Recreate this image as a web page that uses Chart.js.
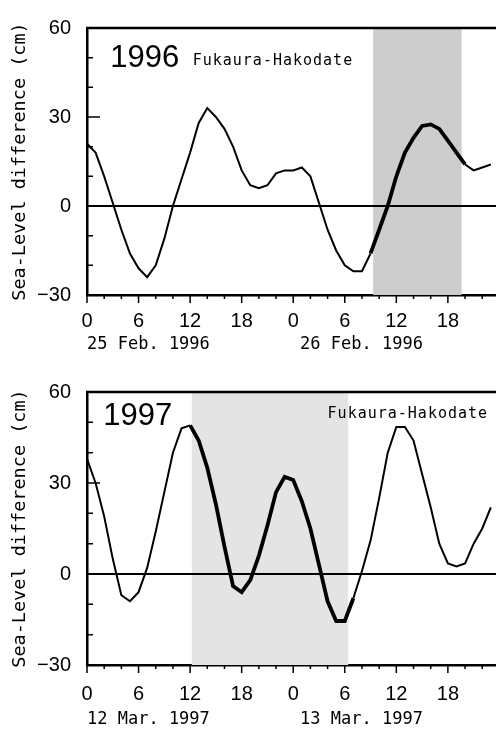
<!DOCTYPE html>
<html>
<head>
<meta charset="utf-8">
<script src="https://cdn.jsdelivr.net/npm/chart.js@4.4.1/dist/chart.umd.min.js"></script>
<style>
    body { margin: 0; background: #fff; }
    #wrap { position: relative; width: 496px; height: 729px; overflow: hidden; }
    canvas { position: absolute; left: 0; }
    #c1996 { top: 0; }
    #c1997 { top: 364px; }
</style>
</head>
<body>
<div id="wrap">
    <canvas id="c1996" width="496" height="364"></canvas>
    <canvas id="c1997" width="496" height="365"></canvas>
</div>
<script>
// hours from 0h of the first day
const hours = [0, 1, 2, 3, 4, 5, 6, 7, 8, 9, 10, 11, 12, 13, 14, 15, 16, 17, 18, 19, 20, 21, 22, 23,
    24, 25, 26, 27, 28, 29, 30, 31, 32, 33, 34, 35, 36, 37, 38, 39, 40, 41, 42, 43, 44, 45, 46, 47];

// sea-level difference Fukaura - Hakodate (cm)
const sea1996 = [21, 18, 10, 1, -8, -16, -21, -24, -20, -11, 0, 9, 18, 28, 33, 30, 26, 20, 12, 7, 6, 7, 11, 12,
    12, 13, 10, 1, -8, -15, -20, -22, -22, -16, -8, 0, 10, 18, 23, 27, 27.5, 26, 22, 18, 14, 12, 13, 14];
const sea1997 = [38, 30, 19, 5, -7, -9, -6, 2, 14, 27, 40, 48, 49, 44, 35, 23, 9, -4, -6, -2, 6, 16, 27, 32,
    31, 24, 15, 3, -9, -15.5, -15.5, -8, 1, 11, 25, 40, 48.5, 48.5, 44, 33, 22, 10, 3.5, 2.5, 3.5, 10, 15, 22];

// shaded period and bold part of the curve (hours)
const shade1996 = [33.3, 43.6];
const shade1997 = [12.2, 30.4];
const bold1996 = [33, 44];
const bold1997 = [12, 31];

const hourTicks = [0, 6, 12, 18, 24, 30, 36, 42];
const hourLabels = ["0", "6", "12", "18", "0", "6", "12", "18"];
const yTicks = [-30, 0, 30, 60];
const yLabels = ["\u221230", "0", "30", "60"];

const dates1996 = ["25 Feb. 1996", "26 Feb. 1996"];
const dates1997 = ["12 Mar. 1997", "13 Mar. 1997"];
const site = "Fukaura-Hakodate";

Chart.defaults.font.family = "'Liberation Sans', Arial, sans-serif";
Chart.defaults.color = "#000";

const mono = "'DejaVu Sans Mono', monospace";

const decor = {
    id: "decor",
    beforeDatasetsDraw(chart, args, o) {
        const { ctx, chartArea: a, scales: { x, y } } = chart;
        ctx.save();
        let x0 = x.getPixelForValue(o.shade[0]);
        let x1 = x.getPixelForValue(o.shade[1]);
        ctx.fillStyle = o.shadeColor;
        ctx.fillRect(x0, a.top, x1 - x0, a.bottom - a.top);

        // zero line
        ctx.strokeStyle = "#000";
        ctx.lineWidth = 2;
        ctx.beginPath();
        ctx.moveTo(a.left, y.getPixelForValue(0));
        ctx.lineTo(a.right, y.getPixelForValue(0));
        ctx.stroke();
        ctx.restore();
    },
    afterDraw(chart, args, o) {
        const { ctx, chartArea: a, scales: { x, y } } = chart;
        ctx.save();
        ctx.strokeStyle = "#000";

        // top frame
        ctx.lineWidth = 2.5;
        ctx.beginPath();
        ctx.moveTo(a.left - 1, a.top);
        ctx.lineTo(a.right, a.top);
        ctx.stroke();

        // tick marks
        ctx.lineWidth = 1.5;
        ctx.beginPath();
        for (let h = 0; h <= x.max; h += 2) {
            let px = x.getPixelForValue(h);
            ctx.moveTo(px, a.bottom);
            ctx.lineTo(px, a.bottom + (h % 6 === 0 ? 8 : 4));
        }
        for (let v = -30; v <= 60; v += 10) {
            let py = y.getPixelForValue(v);
            ctx.moveTo(a.left, py);
            ctx.lineTo(a.left + (v % 30 === 0 ? 13 : 6), py);
        }
        ctx.stroke();

        // texts
        ctx.fillStyle = "#000";
        ctx.textBaseline = "middle";
        ctx.textAlign = "left";
        ctx.font = "31px 'Liberation Sans', Arial, sans-serif";
        ctx.fillText(o.year, x.getPixelForValue(o.yearAt[0]), y.getPixelForValue(o.yearAt[1]));

        ctx.font = "15px " + mono;
        ctx.letterSpacing = "1px";
        ctx.fillText(site, x.getPixelForValue(o.siteAt[0]), y.getPixelForValue(o.siteAt[1]));

        ctx.font = "17px " + mono;
        ctx.letterSpacing = "0px";
        for (let i = 0; i < o.dates.length; ++i) {
            ctx.fillText(o.dates[i], x.getPixelForValue(o.dateAt[i]), a.bottom + o.dateY);
        }
        ctx.restore();
    }
};

function makeChart(id, sea, opts) {
    let ctx = document.getElementById(id).getContext("2d");
    let pts = hours.map((h, i) => ({ x: h, y: sea[i] }));

    return new Chart(ctx, {
        type: "line",
        data: {
            datasets: [{
                data: pts,
                borderColor: "#000",
                borderWidth: 2,
                pointRadius: 0,
                tension: 0,
                segment: {
                    borderWidth: c => (c.p0.parsed.x >= opts.bold[0] && c.p1.parsed.x <= opts.bold[1]) ? 3.8 : 2
                }
            }]
        },
        options: {
            responsive: false,
            animation: false,
            layout: { padding: { top: opts.top, left: 0, right: 0, bottom: 0 } },
            plugins: {
                legend: { display: false },
                tooltip: { enabled: false },
                decor: opts
            },
            scales: {
                x: {
                    type: "linear",
                    min: 0,
                    max: 47.6,
                    grid: { display: false, drawTicks: false },
                    border: { display: true, color: "#000", width: 2.5 },
                    afterBuildTicks: s => { s.ticks = hourTicks.map(v => ({ value: v })); },
                    afterFit: s => { s.height = opts.xHeight; },
                    ticks: {
                        autoSkip: false,
                        maxRotation: 0,
                        padding: opts.xPad,
                        font: { size: 20 },
                        callback: (v, i) => hourLabels[i]
                    }
                },
                y: {
                    min: -30,
                    max: 60,
                    grid: { display: false, drawTicks: false },
                    border: { display: true, color: "#000", width: 2.5 },
                    afterBuildTicks: s => { s.ticks = yTicks.map(v => ({ value: v })); },
                    afterFit: s => { s.width = 87; },
                    ticks: {
                        padding: 16,
                        font: { size: 20 },
                        callback: (v, i) => yLabels[i]
                    },
                    title: {
                        display: true,
                        text: "Sea-Level difference (cm)",
                        font: { family: mono, size: 18.5 },
                        padding: { top: 9, bottom: 0 }
                    }
                }
            }
        },
        plugins: [decor]
    });
}

makeChart("c1996", sea1996, {
    top: 19, xHeight: 69, xPad: 14,
    shade: shade1996, shadeColor: "rgb(205,205,205)", bold: bold1996,
    year: "1996", yearAt: [2.7, 49.8],
    siteAt: [12.3, 49], dates: dates1996, dateAt: [0, 24.8], dateY: 50
});

makeChart("c1997", sea1997, {
    top: 26, xHeight: 64, xPad: 17,
    shade: shade1997, shadeColor: "rgb(228,228,228)", bold: bold1997,
    year: "1997", yearAt: [1.9, 51.8],
    siteAt: [28, 52.8], dates: dates1997, dateAt: [0, 24.8], dateY: 55
});
</script>
</body>
</html>
